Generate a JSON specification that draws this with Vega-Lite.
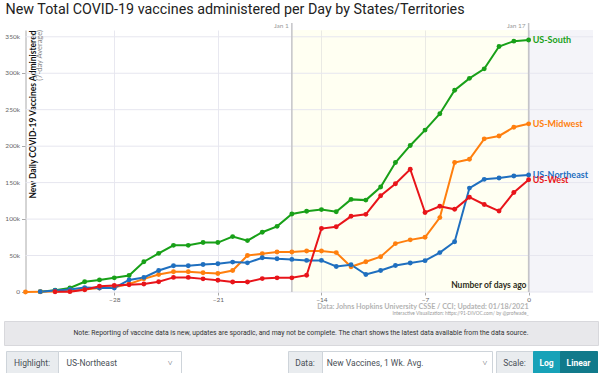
{
  "$schema": "https://vega.github.io/schema/vega-lite/v6.json",
  "padding": {"left": 3, "top": 2, "right": 0, "bottom": 0},
  "background": "white",
  "title": {"text": "New Total COVID-19 vaccines administered per Day by States/Territories", "anchor": "start", "font": "Roboto", "fontSize": 14.3, "fontWeight": "normal", "color": "#222", "offset": 5, "dx": 2},
  "config": {
    "font": "Lato",
    "view": {"stroke": null},
    "axis": {"labelFont": "Lato", "titleFont": "Lato", "labelFontSize": 6.5, "labelColor": "#666", "tickColor": "#aaa", "domainColor": "#aaa", "gridColor": "#e8e8f0", "labelOverlap": false}
  },
  "datasets": {
    "vax": [
      {"region": "US-South", "day": -33, "v": 500}, {"region": "US-South", "day": -32, "v": 2500}, {"region": "US-South", "day": -31, "v": 5500}, {"region": "US-South", "day": -30, "v": 14000}, {"region": "US-South", "day": -29, "v": 16600}, {"region": "US-South", "day": -28, "v": 19400}, {"region": "US-South", "day": -27, "v": 22600}, {"region": "US-South", "day": -26, "v": 41500}, {"region": "US-South", "day": -25, "v": 53000}, {"region": "US-South", "day": -24, "v": 64000}, {"region": "US-South", "day": -23, "v": 64000}, {"region": "US-South", "day": -22, "v": 67800}, {"region": "US-South", "day": -21, "v": 67800}, {"region": "US-South", "day": -20, "v": 76000}, {"region": "US-South", "day": -19, "v": 70500}, {"region": "US-South", "day": -18, "v": 82000}, {"region": "US-South", "day": -17, "v": 90000}, {"region": "US-South", "day": -16, "v": 107000}, {"region": "US-South", "day": -15, "v": 110700}, {"region": "US-South", "day": -14, "v": 113000}, {"region": "US-South", "day": -13, "v": 110000}, {"region": "US-South", "day": -12, "v": 127000}, {"region": "US-South", "day": -11, "v": 126000}, {"region": "US-South", "day": -10, "v": 144000}, {"region": "US-South", "day": -9, "v": 177500}, {"region": "US-South", "day": -8, "v": 201000}, {"region": "US-South", "day": -7, "v": 222000}, {"region": "US-South", "day": -6, "v": 244500}, {"region": "US-South", "day": -5, "v": 276700}, {"region": "US-South", "day": -4, "v": 293000}, {"region": "US-South", "day": -3, "v": 306000}, {"region": "US-South", "day": -2, "v": 336600}, {"region": "US-South", "day": -1, "v": 344000}, {"region": "US-South", "day": 0, "v": 345500},
      {"region": "US-Midwest", "day": -34, "v": 0}, {"region": "US-Midwest", "day": -33, "v": 300}, {"region": "US-Midwest", "day": -32, "v": 800}, {"region": "US-Midwest", "day": -31, "v": 1500}, {"region": "US-Midwest", "day": -30, "v": 3500}, {"region": "US-Midwest", "day": -29, "v": 5500}, {"region": "US-Midwest", "day": -28, "v": 6500}, {"region": "US-Midwest", "day": -27, "v": 11000}, {"region": "US-Midwest", "day": -26, "v": 18000}, {"region": "US-Midwest", "day": -25, "v": 24000}, {"region": "US-Midwest", "day": -24, "v": 27700}, {"region": "US-Midwest", "day": -23, "v": 27700}, {"region": "US-Midwest", "day": -22, "v": 26300}, {"region": "US-Midwest", "day": -21, "v": 25400}, {"region": "US-Midwest", "day": -20, "v": 29500}, {"region": "US-Midwest", "day": -19, "v": 50000}, {"region": "US-Midwest", "day": -18, "v": 52600}, {"region": "US-Midwest", "day": -17, "v": 54900}, {"region": "US-Midwest", "day": -16, "v": 54900}, {"region": "US-Midwest", "day": -15, "v": 56300}, {"region": "US-Midwest", "day": -14, "v": 56300}, {"region": "US-Midwest", "day": -13, "v": 54000}, {"region": "US-Midwest", "day": -12, "v": 34600}, {"region": "US-Midwest", "day": -11, "v": 41500}, {"region": "US-Midwest", "day": -10, "v": 48400}, {"region": "US-Midwest", "day": -9, "v": 66400}, {"region": "US-Midwest", "day": -8, "v": 71500}, {"region": "US-Midwest", "day": -7, "v": 75000}, {"region": "US-Midwest", "day": -6, "v": 102000}, {"region": "US-Midwest", "day": -5, "v": 177500}, {"region": "US-Midwest", "day": -4, "v": 182000}, {"region": "US-Midwest", "day": -3, "v": 210000}, {"region": "US-Midwest", "day": -2, "v": 214000}, {"region": "US-Midwest", "day": -1, "v": 226000}, {"region": "US-Midwest", "day": 0, "v": 230600},
      {"region": "US-Northeast", "day": -33, "v": 500}, {"region": "US-Northeast", "day": -32, "v": 2000}, {"region": "US-Northeast", "day": -31, "v": 3500}, {"region": "US-Northeast", "day": -30, "v": 6000}, {"region": "US-Northeast", "day": -29, "v": 5500}, {"region": "US-Northeast", "day": -28, "v": 5500}, {"region": "US-Northeast", "day": -27, "v": 16600}, {"region": "US-Northeast", "day": -26, "v": 20000}, {"region": "US-Northeast", "day": -25, "v": 29500}, {"region": "US-Northeast", "day": -24, "v": 36000}, {"region": "US-Northeast", "day": -23, "v": 36000}, {"region": "US-Northeast", "day": -22, "v": 37800}, {"region": "US-Northeast", "day": -21, "v": 38700}, {"region": "US-Northeast", "day": -20, "v": 41000}, {"region": "US-Northeast", "day": -19, "v": 40000}, {"region": "US-Northeast", "day": -18, "v": 47000}, {"region": "US-Northeast", "day": -17, "v": 45600}, {"region": "US-Northeast", "day": -16, "v": 44700}, {"region": "US-Northeast", "day": -15, "v": 43300}, {"region": "US-Northeast", "day": -14, "v": 43300}, {"region": "US-Northeast", "day": -13, "v": 35000}, {"region": "US-Northeast", "day": -12, "v": 37400}, {"region": "US-Northeast", "day": -11, "v": 24000}, {"region": "US-Northeast", "day": -10, "v": 29500}, {"region": "US-Northeast", "day": -9, "v": 36400}, {"region": "US-Northeast", "day": -8, "v": 39700}, {"region": "US-Northeast", "day": -7, "v": 43000}, {"region": "US-Northeast", "day": -6, "v": 54000}, {"region": "US-Northeast", "day": -5, "v": 69000}, {"region": "US-Northeast", "day": -4, "v": 142500}, {"region": "US-Northeast", "day": -3, "v": 154500}, {"region": "US-Northeast", "day": -2, "v": 156300}, {"region": "US-Northeast", "day": -1, "v": 159000}, {"region": "US-Northeast", "day": 0, "v": 160500},
      {"region": "US-West", "day": -32, "v": 400}, {"region": "US-West", "day": -31, "v": 500}, {"region": "US-West", "day": -30, "v": 3000}, {"region": "US-West", "day": -29, "v": 8000}, {"region": "US-West", "day": -28, "v": 9000}, {"region": "US-West", "day": -27, "v": 10000}, {"region": "US-West", "day": -26, "v": 11000}, {"region": "US-West", "day": -25, "v": 14000}, {"region": "US-West", "day": -24, "v": 20000}, {"region": "US-West", "day": -23, "v": 20000}, {"region": "US-West", "day": -22, "v": 18000}, {"region": "US-West", "day": -21, "v": 16100}, {"region": "US-West", "day": -20, "v": 13800}, {"region": "US-West", "day": -19, "v": 13800}, {"region": "US-West", "day": -18, "v": 18400}, {"region": "US-West", "day": -17, "v": 19400}, {"region": "US-West", "day": -16, "v": 19400}, {"region": "US-West", "day": -15, "v": 23000}, {"region": "US-West", "day": -14, "v": 87000}, {"region": "US-West", "day": -13, "v": 89500}, {"region": "US-West", "day": -12, "v": 103800}, {"region": "US-West", "day": -11, "v": 106500}, {"region": "US-West", "day": -10, "v": 131900}, {"region": "US-West", "day": -9, "v": 148500}, {"region": "US-West", "day": -8, "v": 168300}, {"region": "US-West", "day": -7, "v": 109000}, {"region": "US-West", "day": -6, "v": 117600}, {"region": "US-West", "day": -5, "v": 113400}, {"region": "US-West", "day": -4, "v": 130000}, {"region": "US-West", "day": -3, "v": 120000}, {"region": "US-West", "day": -2, "v": 111000}, {"region": "US-West", "day": -1, "v": 136500}, {"region": "US-West", "day": 0, "v": 154000}
    ],
    "marks": [{"day": -16, "label": "Jan 1"}, {"day": 0, "label": "Jan 17"}],
    "ygrid": [{"v": 0, "label": "0"}, {"v": 50000, "label": "50k"}, {"v": 100000, "label": "100k"}, {"v": 150000, "label": "150k"}, {"v": 200000, "label": "200k"}, {"v": 250000, "label": "250k"}, {"v": 300000, "label": "300k"}, {"v": 350000, "label": "350k"}]
  },
  "spacing": 4,
  "vconcat": [
    {
      "width": 589,
      "height": 262,
      "layer": [
        {
          "data": {"values": [{}]},
          "mark": {"type": "rect", "color": "#ffff80", "opacity": 0.1},
          "encoding": {
            "x": {"datum": -16, "type": "quantitative", "scale": {"domain": [-35.452, 4.35], "nice": false, "zero": false}, "axis": {"values": [-28, -21, -14, -7, 0], "grid": true, "domain": false, "tickSize": 3, "labelPadding": 1, "title": "Number of days ago", "titleFontSize": 8.5, "titleFontWeight": "bold", "titleColor": "#111", "titleAlign": "right", "titleBaseline": "bottom", "titleX": 522, "titleY": -3}},
            "x2": {"datum": 0}
          }
        },
        {
          "data": {"values": [{}]},
          "mark": {"type": "rect", "color": "#c8c8e0", "opacity": 0.2},
          "encoding": {
            "x": {"datum": 0, "type": "quantitative", "scale": {"domain": [-35.452, 4.35], "nice": false, "zero": false}},
            "x2": {"datum": 4.35}
          }
        },
        {
          "data": {"name": "ygrid"},
          "mark": {"type": "rule", "color": "#e6e6ef", "strokeWidth": 1},
          "encoding": {
            "x": {"datum": -34, "type": "quantitative", "scale": {"domain": [-35.452, 4.35], "nice": false, "zero": false}},
            "x2": {"datum": 4.35},
            "y": {"field": "v", "type": "quantitative", "scale": {"domain": [0, 359300], "nice": false}, "axis": {"values": [0, 50000, 100000, 150000, 200000, 250000, 300000, 350000], "labels": false, "offset": -21.5, "tickSize": 4, "grid": false, "title": "New Daily COVID-19 Vaccines Administered", "titleFontSize": 8.5, "titleFontWeight": "bold", "titleColor": "#111", "titleAngle": 270, "titleAlign": "right", "titleBaseline": "top", "titleX": 3, "titleY": 0}}
          }
        },
        {
          "data": {"name": "ygrid"},
          "mark": {"type": "text", "align": "right", "baseline": "middle", "dx": -5.5, "fontSize": 6.5, "color": "#666", "font": "Lato"},
          "encoding": {
            "x": {"datum": -34, "type": "quantitative", "scale": {"domain": [-35.452, 4.35], "nice": false, "zero": false}},
            "y": {"field": "v", "type": "quantitative", "scale": {"domain": [0, 359300], "nice": false}},
            "text": {"field": "label"}
          }
        },
        {
          "data": {"name": "marks"},
          "mark": {"type": "rule", "color": "#c4c4c8", "strokeWidth": 1.5},
          "encoding": {
            "x": {"field": "day", "type": "quantitative", "scale": {"domain": [-35.452, 4.35], "nice": false, "zero": false}},
            "y": {"datum": 369000, "type": "quantitative", "scale": {"domain": [0, 359300], "nice": false}},
            "y2": {"datum": 0}
          }
        },
        {
          "data": {"name": "marks"},
          "mark": {"type": "text", "color": "#999", "fontSize": 6.5, "align": "right", "baseline": "middle", "dx": -3},
          "encoding": {
            "x": {"field": "day", "type": "quantitative", "scale": {"domain": [-35.452, 4.35], "nice": false, "zero": false}},
            "y": {"datum": 364600, "type": "quantitative", "scale": {"domain": [0, 359300], "nice": false}},
            "text": {"field": "label"}
          }
        },
        {
          "data": {"name": "vax"},
          "mark": {"type": "line", "strokeWidth": 2, "point": {"filled": true, "size": 24}},
          "encoding": {
            "x": {"field": "day", "type": "quantitative", "scale": {"domain": [-35.452, 4.35], "nice": false, "zero": false}},
            "y": {"field": "v", "type": "quantitative", "scale": {"domain": [0, 359300], "nice": false}},
            "color": {"field": "region", "type": "nominal", "scale": {"domain": ["US-South", "US-Midwest", "US-Northeast", "US-West"], "range": ["#18a018", "#ff7f0e", "#1f6fbf", "#e8141a"]}, "legend": null}
          }
        },
        {
          "data": {"name": "vax"},
          "transform": [{"filter": "datum.day == 0"}],
          "mark": {"type": "text", "align": "left", "baseline": "middle", "dx": 4, "fontSize": 9, "fontWeight": "bold", "font": "Lato"},
          "encoding": {
            "x": {"field": "day", "type": "quantitative", "scale": {"domain": [-35.452, 4.35], "nice": false, "zero": false}},
            "y": {"field": "v", "type": "quantitative", "scale": {"domain": [0, 359300], "nice": false}},
            "text": {"field": "region"},
            "color": {"field": "region", "type": "nominal", "scale": {"domain": ["US-South", "US-Midwest", "US-Northeast", "US-West"], "range": ["#18a018", "#ff7f0e", "#1f6fbf", "#e8141a"]}, "legend": null}
          }
        },
        {
          "data": {"values": [{}]},
          "mark": {"type": "text", "text": "(7-day Average)", "angle": 270, "align": "right", "baseline": "top", "fontSize": 7.5, "color": "#888"},
          "encoding": {
            "x": {"datum": -33.3, "type": "quantitative", "scale": {"domain": [-35.452, 4.35], "nice": false, "zero": false}},
            "y": {"datum": 359300, "type": "quantitative", "scale": {"domain": [0, 359300], "nice": false}}
          }
        },
        {
          "data": {"values": [{}]},
          "mark": {"type": "text", "text": "Data: Johns Hopkins University CSSE / CCI; Updated: 01/18/2021", "align": "right", "baseline": "middle", "fontSize": 7.2, "fontWeight": "bold", "color": "#b3b3b3"},
          "encoding": {
            "x": {"datum": 0, "type": "quantitative", "scale": {"domain": [-35.452, 4.35], "nice": false, "zero": false}},
            "y": {"datum": -20500, "type": "quantitative", "scale": {"domain": [0, 359300], "nice": false}}
          }
        },
        {
          "data": {"values": [{}]},
          "mark": {"type": "text", "text": "Interactive Visualization: https://91-DIVOC.com/ by @profwade_", "align": "right", "baseline": "middle", "fontSize": 4.8, "color": "#999"},
          "encoding": {
            "x": {"datum": 0, "type": "quantitative", "scale": {"domain": [-35.452, 4.35], "nice": false, "zero": false}},
            "y": {"datum": -29500, "type": "quantitative", "scale": {"domain": [0, 359300], "nice": false}}
          }
        }
      ]
    },
    {
      "width": 594,
      "height": 24,
      "view": {"fill": "#e8e8eb", "stroke": "#d8d8dc"},
      "data": {"values": [{}]},
      "mark": {"type": "text", "text": "Note: Reporting of vaccine data is new, updates are sporadic, and may not be complete. The chart shows the latest data available from the data source.", "font": "Roboto", "fontSize": 6.8, "color": "#333"},
      "encoding": {}
    },
    {
      "spacing": 0,
      "bounds": "flush",
      "hconcat": [
        {"width": 2, "height": 23, "view": {"stroke": null}, "data": {"values": [{}]}, "mark": {"type": "text", "text": ""}, "encoding": {}},
        {"width": 52, "height": 23, "view": {"fill": "#e9ecef", "stroke": "#ced4da"}, "data": {"values": [{}]}, "mark": {"type": "text", "text": "Highlight:", "font": "Roboto", "fontSize": 8.5, "color": "#495057"}, "encoding": {}},
        {"width": 123, "height": 23, "view": {"fill": "white", "stroke": "#ced4da"}, "data": {"values": [{}]}, "mark": {"type": "text", "text": "US-Northeast\u00a0\u00a0\u00a0\u00a0\u00a0\u00a0\u00a0\u00a0\u00a0\u00a0\u00a0\u00a0\u00a0\u00a0\u00a0\u00a0\u00a0\u00a0\u00a0\u00a0\u00a0\u00a0\u00a0\u00a0˅", "font": "Roboto", "fontSize": 8.5, "color": "#495057"}, "encoding": {}},
        {"width": 107, "height": 23, "view": {"stroke": null}, "data": {"values": [{}]}, "mark": {"type": "text", "text": ""}, "encoding": {}},
        {"width": 34, "height": 23, "view": {"fill": "#e9ecef", "stroke": "#ced4da"}, "data": {"values": [{}]}, "mark": {"type": "text", "text": "Data:", "font": "Roboto", "fontSize": 8.5, "color": "#495057"}, "encoding": {}},
        {"width": 170, "height": 23, "view": {"fill": "white", "stroke": "#ced4da"}, "data": {"values": [{}]}, "mark": {"type": "text", "text": "New Vaccines, 1 Wk. Avg.\u00a0\u00a0\u00a0\u00a0\u00a0\u00a0\u00a0\u00a0\u00a0\u00a0\u00a0\u00a0\u00a0\u00a0\u00a0\u00a0\u00a0\u00a0\u00a0\u00a0\u00a0\u00a0\u00a0\u00a0\u00a0\u00a0\u00a0\u00a0˅", "font": "Roboto", "fontSize": 8.5, "color": "#495057"}, "encoding": {}},
        {"width": 4, "height": 23, "view": {"stroke": null}, "data": {"values": [{}]}, "mark": {"type": "text", "text": ""}, "encoding": {}},
        {"width": 37, "height": 23, "view": {"fill": "#e9ecef", "stroke": "#ced4da"}, "data": {"values": [{}]}, "mark": {"type": "text", "text": "Scale:", "font": "Roboto", "fontSize": 8.5, "color": "#495057"}, "encoding": {}},
        {"width": 27, "height": 23, "view": {"fill": "#17a2b8", "stroke": "#17a2b8"}, "data": {"values": [{}]}, "mark": {"type": "text", "text": "Log", "font": "Roboto", "fontSize": 8.5, "fontWeight": "bold", "color": "white"}, "encoding": {}},
        {"width": 37, "height": 23, "view": {"fill": "#117a8b", "stroke": "#117a8b"}, "data": {"values": [{}]}, "mark": {"type": "text", "text": "Linear", "font": "Roboto", "fontSize": 8.5, "fontWeight": "bold", "color": "white"}, "encoding": {}}
      ]
    }
  ]
}
